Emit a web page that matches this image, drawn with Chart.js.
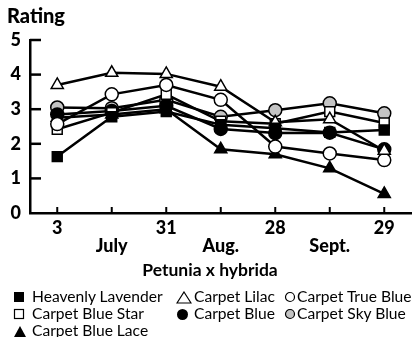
<!DOCTYPE html>
<html>
<head>
<meta charset="utf-8">
<script src="https://cdn.jsdelivr.net/npm/chart.js@4/dist/chart.umd.min.js"></script>
<style>
  html, body { margin: 0; padding: 0; background: #fff; }
  #wrap { position: relative; width: 420px; height: 337px; overflow: hidden; font-family: Lato, "Open Sans", sans-serif; color: #000; }
  #c { position: absolute; left: 0; top: 0; }
  .lt { position: absolute; left: 0; width: 420px; text-align: center; top: 260px; font-weight: bold; font-size: 17.5px; line-height: 20px; }
  .it { position: absolute; font-size: 15.6px; line-height: 17px; white-space: nowrap; }
  .it svg { position: absolute; top: 3px; }
  .it span { position: absolute; top: 0; }
</style>
</head>
<body>
<div id="wrap">
  <canvas id="c" width="420" height="262"></canvas>
  <div class="lt">Petunia x hybrida</div>
  <div id="legend"></div>
</div>
<script>
const dayLabels = ["3", "", "31", "", "28", "", "29"];
const monthLabels = ["", "July", "", "Aug.", "", "Sept.", ""];
const yTicks = [0, 1, 2, 3, 4, 5];

const seriesNames = ["Heavenly Lavender", "Carpet Lilac", "Carpet True Blue", "Carpet Blue Star", "Carpet Blue", "Carpet Sky Blue", "Carpet Blue Lace"];
const heavenlyLavender = [1.63, 2.78, 2.93, 2.55, 2.45, 2.33, 2.40];
const carpetLilac      = [3.70, 4.05, 4.02, 3.65, 2.62, 2.71, 1.80];
const carpetTrueBlue   = [2.57, 3.43, 3.70, 3.27, 1.92, 1.72, 1.53];
const carpetBlueStar   = [2.42, 2.90, 3.43, 2.65, 2.58, 2.93, 2.60];
const carpetBlue       = [2.85, 2.95, 3.10, 2.43, 2.31, 2.32, 1.84];
const carpetSkyBlue    = [3.05, 3.03, 3.27, 2.78, 2.97, 3.17, 2.88];
const carpetBlueLace   = [2.75, 2.85, 3.00, 1.84, 1.70, 1.29, 0.55];

const seriesValues = [heavenlyLavender, carpetLilac, carpetTrueBlue, carpetBlueStar, carpetBlue, carpetSkyBlue, carpetBlueLace];
const styles = [
  { shape: "rect", fill: "#000", r: 7 },
  { shape: "triangle", fill: "#fff", r: 7 },
  { shape: "circle", fill: "#fff", r: 6.5 },
  { shape: "rect", fill: "#fff", r: 7 },
  { shape: "circle", fill: "#000", r: 6.5 },
  { shape: "circle", fill: "#c4c4c4", r: 6.5 },
  { shape: "triangle", fill: "#000", r: 7 }
];

const labels = dayLabels.map((d, i) => [d, monthLabels[i]]);

const datasets = seriesValues.map((vals, i) => ({
  label: seriesNames[i],
  data: vals,
  borderColor: "#000",
  borderWidth: 2.5,
  pointStyle: styles[i].shape,
  pointRadius: styles[i].r,
  pointBackgroundColor: styles[i].fill,
  pointBorderColor: "#000",
  pointBorderWidth: 1.5,
  tension: 0,
  fill: false
}));

const tickPlugin = {
  id: "innerTicks",
  beforeDatasetsDraw(chart) {
    const ctx = chart.ctx, a = chart.chartArea;
    const xs = chart.scales.x, ys = chart.scales.y;
    ctx.save();
    ctx.strokeStyle = "#000";
    ctx.lineWidth = 2.5;
    yTicks.forEach(v => {
      if (v === 0) return;
      const y = ys.getPixelForValue(v);
      ctx.beginPath(); ctx.moveTo(a.left, y); ctx.lineTo(a.left + 11, y); ctx.stroke();
    });
    ctx.lineWidth = 2;
    labels.forEach((l, i) => {
      const x = xs.getPixelForValue(i);
      ctx.beginPath(); ctx.moveTo(x, a.bottom); ctx.lineTo(x, a.bottom - 6); ctx.stroke();
    });
    ctx.restore();
  }
};

new Chart(document.getElementById("c"), {
  type: "line",
  data: { labels, datasets },
  options: {
    responsive: false,
    animation: false,
    layout: { padding: { left: 7, right: 3, top: 0, bottom: 0 } },
    plugins: {
      legend: { display: false },
      tooltip: { enabled: false },
      title: {
        display: true, text: "Rating", align: "start", color: "#000",
        font: { family: "Lato", weight: "900", size: 20, lineHeight: 1.1 },
        padding: { top: 6, bottom: 12 }
      }
    },
    scales: {
      x: {
        type: "category",
        offset: true,
        grid: { display: false, drawTicks: false },
        border: { display: true, color: "#000", width: 2.5 },
        ticks: {
          color: "#000", autoSkip: false, maxRotation: 0, padding: 6,
          font: { family: "Lato", weight: "900", size: 18, lineHeight: 1.02 }
        },
        afterFit(s) { s.height = 49; }
      },
      y: {
        min: 0, max: 5,
        afterBuildTicks(s) { s.ticks = yTicks.map(v => ({ value: v })); },
        grid: { display: false, drawTicks: false },
        border: { display: true, color: "#000", width: 2.5 },
        ticks: {
          color: "#000", padding: 9,
          font: { family: "Lato", weight: "900", size: 18 }
        },
        afterFit(s) { s.width = 23; }
      }
    }
  },
  plugins: [tickPlugin]
});

// Legend (HTML text)
const legendPos = [
  { x: 13, y: 288 }, { x: 176, y: 288 }, { x: 284, y: 288 },
  { x: 13, y: 305 }, { x: 176, y: 305 }, { x: 284, y: 305 },
  { x: 13, y: 322 }
];
const textOffset = [19, 18, 13, 19, 18, 13, 19];
function marker(i) {
  const st = styles[i];
  if (i === 0) return '<svg width="12" height="12"><rect x="1" y="1" width="10" height="10" fill="#000"/></svg>';
  if (i === 3) return '<svg width="12" height="12"><rect x="1.5" y="1.5" width="9" height="9" fill="#fff" stroke="#000" stroke-width="1.2"/></svg>';
  if (i === 1) return '<svg width="16" height="13"><polygon points="8,1 15,12 1,12" fill="#fff" stroke="#000" stroke-width="1.2"/></svg>';
  if (i === 6) return '<svg width="14" height="13"><polygon points="7,1 13,12 1,12" fill="#000"/></svg>';
  if (i === 4) return '<svg width="13" height="13"><circle cx="6.5" cy="6.5" r="5.5" fill="#000"/></svg>';
  return '<svg width="12" height="12"><circle cx="6" cy="6" r="4.5" fill="' + st.fill + '" stroke="#000" stroke-width="1.2"/></svg>';
}
const lg = document.getElementById("legend");
seriesNames.forEach((n, i) => {
  const d = document.createElement("div");
  d.className = "it";
  d.style.left = legendPos[i].x + "px";
  d.style.top = legendPos[i].y + "px";
  d.innerHTML = marker(i) + '<span style="left:' + textOffset[i] + 'px">' + n + '</span>';
  lg.appendChild(d);
});
</script>
</body>
</html>
